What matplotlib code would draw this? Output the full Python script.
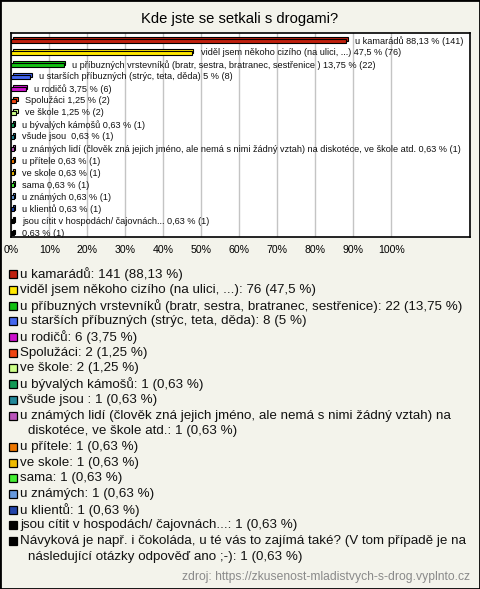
import matplotlib
matplotlib.use("Agg")
import matplotlib.pyplot as plt
import matplotlib.transforms as mtransforms
from matplotlib.patches import Rectangle

plt.rcParams['font.family'] = ['Liberation Sans', 'DejaVu Sans']

title = "Kde jste se setkali s drogami?"
names = [
    "u kamarádů",
    "viděl jsem někoho cizího (na ulici, ...)",
    "u příbuzných vrstevníků (bratr, sestra, bratranec, sestřenice)",
    "u starších příbuzných (strýc, teta, děda)",
    "u rodičů",
    "Spolužáci",
    "ve škole",
    "u bývalých kámošů",
    "všude jsou ",
    "u známých lidí (člověk zná jejich jméno, ale nemá s nimi žádný vztah) na diskotéce, ve škole atd.",
    "u přítele",
    "ve skole",
    "sama",
    "u známých",
    "u klientů",
    "jsou cítit v hospodách/ čajovnách...",
    "Návyková je např. i čokoláda, u té vás to zajímá také? (V tom případě je na následující otázky odpověď ano ;-)",
]
# labels printed next to the bars (slightly different from the legend)
bar_names = [
    "u kamarádů",
    "viděl jsem někoho cizího (na ulici, ...)",
    "u příbuzných vrstevníků (bratr, sestra, bratranec, sestřenice )",
    "u starších příbuzných (strýc, teta, děda)",
    "u rodičů",
    "Spolužáci",
    "ve škole",
    "u bývalých kámošů",
    "všude jsou ",
    "u známých lidí (člověk zná jejich jméno, ale nemá s nimi žádný vztah) na diskotéce, ve škole atd.",
    "u přítele",
    "ve skole",
    "sama",
    "u známých",
    "u klientů",
    "jsou cítit v hospodách/ čajovnách...",
    "",
]
counts = [141, 76, 22, 8, 6, 2, 2, 1, 1, 1, 1, 1, 1, 1, 1, 1, 1]
pcts = [88.13, 47.5, 13.75, 5, 3.75, 1.25, 1.25, 0.63, 0.63, 0.63,
        0.63, 0.63, 0.63, 0.63, 0.63, 0.63, 0.63]
colors = ["#c0200e", "#ffe800", "#12c012", "#4466ee", "#cc11cc", "#ee4411",
          "#ccff88", "#119955", "#228899", "#bb55bb", "#ee7700", "#eebb00",
          "#44ee33", "#6699dd", "#2244aa", "#000000", "#000000"]
# legend lines wrap before these words
legend_breaks = {9: "diskotéce,", 16: "následující"}
xticks = [0, 10, 20, 30, 40, 50, 60, 70, 80, 90, 100]
source = "zdroj: https://zkusenost-mladistvych-s-drog.vyplnto.cz"

W, H = 480, 589
BG = "#f3f3eb"
LEG_FS = 9.6


def fmt(p):
    return ("%g" % p).replace(".", ",")


fig = plt.figure(figsize=(W / 100, H / 100), dpi=100, facecolor=BG)

# plot box in pixels
left, top, right, bottom = 11.3, 33.3, 470, 237.3
ax = fig.add_axes([left / W, 1 - bottom / H, (right - left) / W, (bottom - top) / H])
ax.set_facecolor("white")

n = len(pcts)
ypos = list(range(n))
depth = mtransforms.ScaledTranslation(1.6 / 100, 1.6 / 100, fig.dpi_scale_trans)
# back face for a bit of 3D look
ax.barh(ypos, pcts, height=0.36, color=colors, edgecolor="black", linewidth=0.8,
        transform=ax.transData + depth, zorder=2)
ax.barh(ypos, pcts, height=0.36, color=colors, edgecolor="black", linewidth=0.8, zorder=3)

for i in range(n):
    txt = (bar_names[i] + " " if bar_names[i] else "") + "%s %% (%d)" % (fmt(pcts[i]), counts[i])
    ax.annotate(txt, xy=(pcts[i], i), xytext=(6.3, 0), textcoords="offset points",
                va="center", ha="left", fontsize=6.6, color="#111111", zorder=4)

ax.set_xlim(0, 100 * (right - left) / 380)
ax.set_ylim(n - 1 + 4 / 12.04, -(40.7 - top) / 12.04)
ax.set_xticks(xticks)
ax.set_xticklabels(["%d%%" % t for t in xticks], fontsize=7.6)
ax.set_yticks([])
ax.tick_params(axis="x", length=0, pad=5.5)
ax.grid(axis="x", color="#c4c4c4", linewidth=1)
ax.set_axisbelow(True)
for s in ax.spines.values():
    s.set_color("black")
    s.set_linewidth(1.2)

fig.text(0.5, 1 - 19.5 / H, title, ha="center", va="center", fontsize=10.6)

# legend below the chart
y = 274.3
step = 15.7
for i in range(n):
    entry = "%s: %d (%s %%)" % (names[i], counts[i], fmt(pcts[i]))
    if i in legend_breaks:
        cut = entry.index(" " + legend_breaks[i])
        lines = [entry[:cut], entry[cut + 1:]]
    else:
        lines = [entry]
    fig.patches.append(Rectangle((9.3 / W, 1 - (y + 4) / H), 8 / W, 8 / H,
                                 transform=fig.transFigure, facecolor=colors[i],
                                 edgecolor="black", linewidth=0.9))
    for k, line in enumerate(lines):
        x0 = 20 if k == 0 else 28.5
        fig.text(x0 / W, 1 - y / H, line, ha="left", va="center",
                 fontsize=LEG_FS, color="#111111")
        y += step

fig.text(470 / W, 1 - 577 / H, source, ha="right", va="center",
         fontsize=8.7, color="#8a8a8a")

fig.patches.append(Rectangle((0, 0), 1, 1, transform=fig.transFigure, fill=False,
                             edgecolor="black", linewidth=2))

fig.savefig("out.png", dpi=100, facecolor=BG)
